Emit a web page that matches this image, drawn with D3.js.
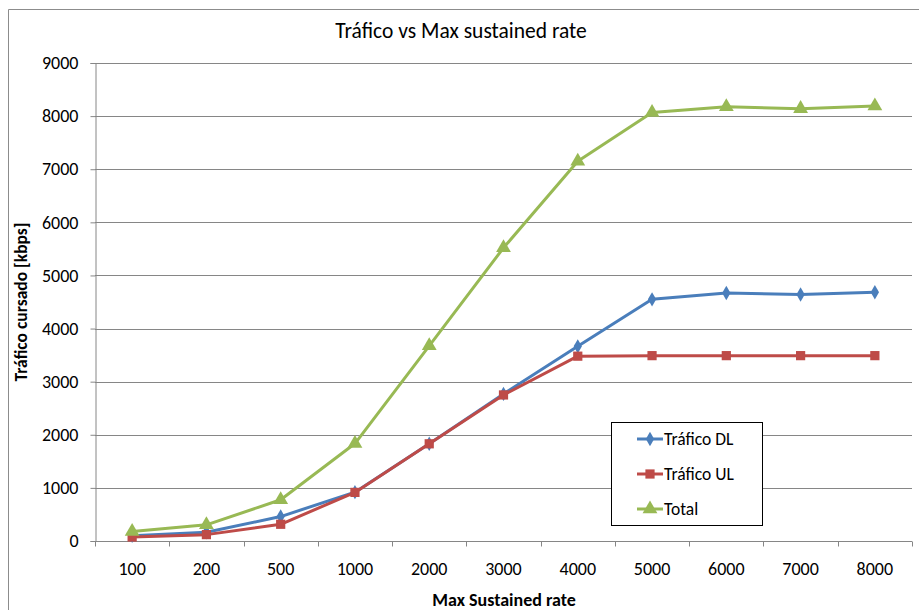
<!DOCTYPE html>
<html><head><meta charset="utf-8">
<script src="https://cdn.jsdelivr.net/npm/d3@7"></script>
<style>
body{margin:0;background:#fff;}
text{font-family:"Carlito","Liberation Sans Narrow","Liberation Sans",Arial,sans-serif;fill:#000;}
</style></head>
<body><svg id="c" width="919" height="610"></svg>
<script>
const categories = ["100","200","500","1000","2000","3000","4000","5000","6000","7000","8000"];
const traficoDL = [100,165,460,920,1830,2770,3665,4550,4670,4640,4685];
const traficoUL = [75,120,315,915,1830,2750,3480,3490,3490,3490,3490];
const total = [180,305,776,1835,3675,5520,7150,8068,8175,8140,8190];
const yTicks = [0,1000,2000,3000,4000,5000,6000,7000,8000,9000];
const seriesNames = ["Tráfico DL","Tráfico UL","Total"];
const colors = ["#4A7EBB","#BE4B48","#98B954"];

const svg = d3.select("#c");
const L=95, R=912, T=63, B=541;
const FF = '"Carlito","Liberation Sans Narrow","Liberation Sans",Arial,sans-serif';

// outer frame
svg.append("path").attr("d","M8.5,610 L8.5,9.5 L919,9.5").attr("fill","none").attr("stroke","#8c8c8c").attr("stroke-width",1);

const x = d3.scaleBand().domain(categories).range([L,R]);
const y = d3.scaleLinear().domain([0,9000]).range([B,T]);

// gridlines
svg.append("g").selectAll("line").data(yTicks.filter(d=>d>0)).join("line")
  .attr("x1",L).attr("x2",R).attr("y1",d=>Math.round(y(d))+0.5).attr("y2",d=>Math.round(y(d))+0.5)
  .attr("stroke","#868686").attr("stroke-width",1);

// y axis
const yAxis = svg.append("g").attr("transform",`translate(${L+0.5},0)`)
  .call(d3.axisLeft(y).tickValues(yTicks).tickSize(5).tickPadding(12).tickFormat(d3.format("d")));
yAxis.select(".domain").attr("stroke","#868686");
yAxis.selectAll(".tick line").attr("stroke","#868686");
yAxis.selectAll("text").attr("font-size","18px").attr("fill","#000").style("font-family",FF);

// x axis
const xAxisG = svg.append("g").attr("transform",`translate(0,${B+0.5})`);
xAxisG.append("line").attr("x1",L).attr("x2",R).attr("stroke","#868686");
const bounds = categories.map(c=>x(c)).concat([R]);
xAxisG.selectAll("line.tk").data(bounds).join("line").attr("class","tk")
  .attr("x1",d=>Math.round(d)+0.5).attr("x2",d=>Math.round(d)+0.5).attr("y1",0).attr("y2",5).attr("stroke","#868686");
xAxisG.selectAll("text").data(categories).join("text")
  .attr("x",d=>x(d)+x.bandwidth()/2).attr("y",33).attr("text-anchor","middle").attr("font-size","18px").text(d=>d);

// titles
svg.append("text").attr("x",461).attr("y",38).attr("text-anchor","middle").attr("font-size","21.5px").text("Tráfico vs Max sustained rate");
svg.append("text").attr("x",504).attr("y",606).attr("text-anchor","middle").attr("font-size","18px").attr("font-weight","bold").text("Max Sustained rate");
svg.append("text").attr("transform","translate(27,302) rotate(-90)").attr("text-anchor","middle").attr("font-size","17.5px").attr("font-weight","bold").text("Tráfico cursado [kbps]");

const data = [traficoDL, traficoUL, total];
const symbols = [d3.symbolDiamond, d3.symbolSquare, d3.symbolTriangle];
const sizes = [60, 85, 95];
const line = d3.line().x((d,i)=>x(categories[i])+x.bandwidth()/2).y(d=>y(d));

data.forEach((vals,k)=>{
  const g = svg.append("g");
  g.append("path").attr("d",line(vals)).attr("fill","none").attr("stroke",colors[k]).attr("stroke-width",3).attr("stroke-linejoin","round");
  g.selectAll("path.m").data(vals).join("path").attr("class","m")
    .attr("transform",(d,i)=>`translate(${x(categories[i])+x.bandwidth()/2},${y(d)})`)
    .attr("d",d3.symbol().type(symbols[k]).size(sizes[k])).attr("fill",colors[k]);
});

// legend
const lg = svg.append("g");
lg.append("rect").attr("x",611.5).attr("y",422.5).attr("width",151).attr("height",103).attr("fill","#fff").attr("stroke","#000").attr("stroke-width",1);
seriesNames.forEach((n,k)=>{
  const yy = 439 + k*35;
  lg.append("line").attr("x1",637).attr("x2",663).attr("y1",yy).attr("y2",yy).attr("stroke",colors[k]).attr("stroke-width",3);
  lg.append("path").attr("transform",`translate(650,${yy})`).attr("d",d3.symbol().type(symbols[k]).size(sizes[k])).attr("fill",colors[k]);
  lg.append("text").attr("x",664).attr("y",yy+6).attr("font-size","17.5px").text(n);
});
</script></body></html>
